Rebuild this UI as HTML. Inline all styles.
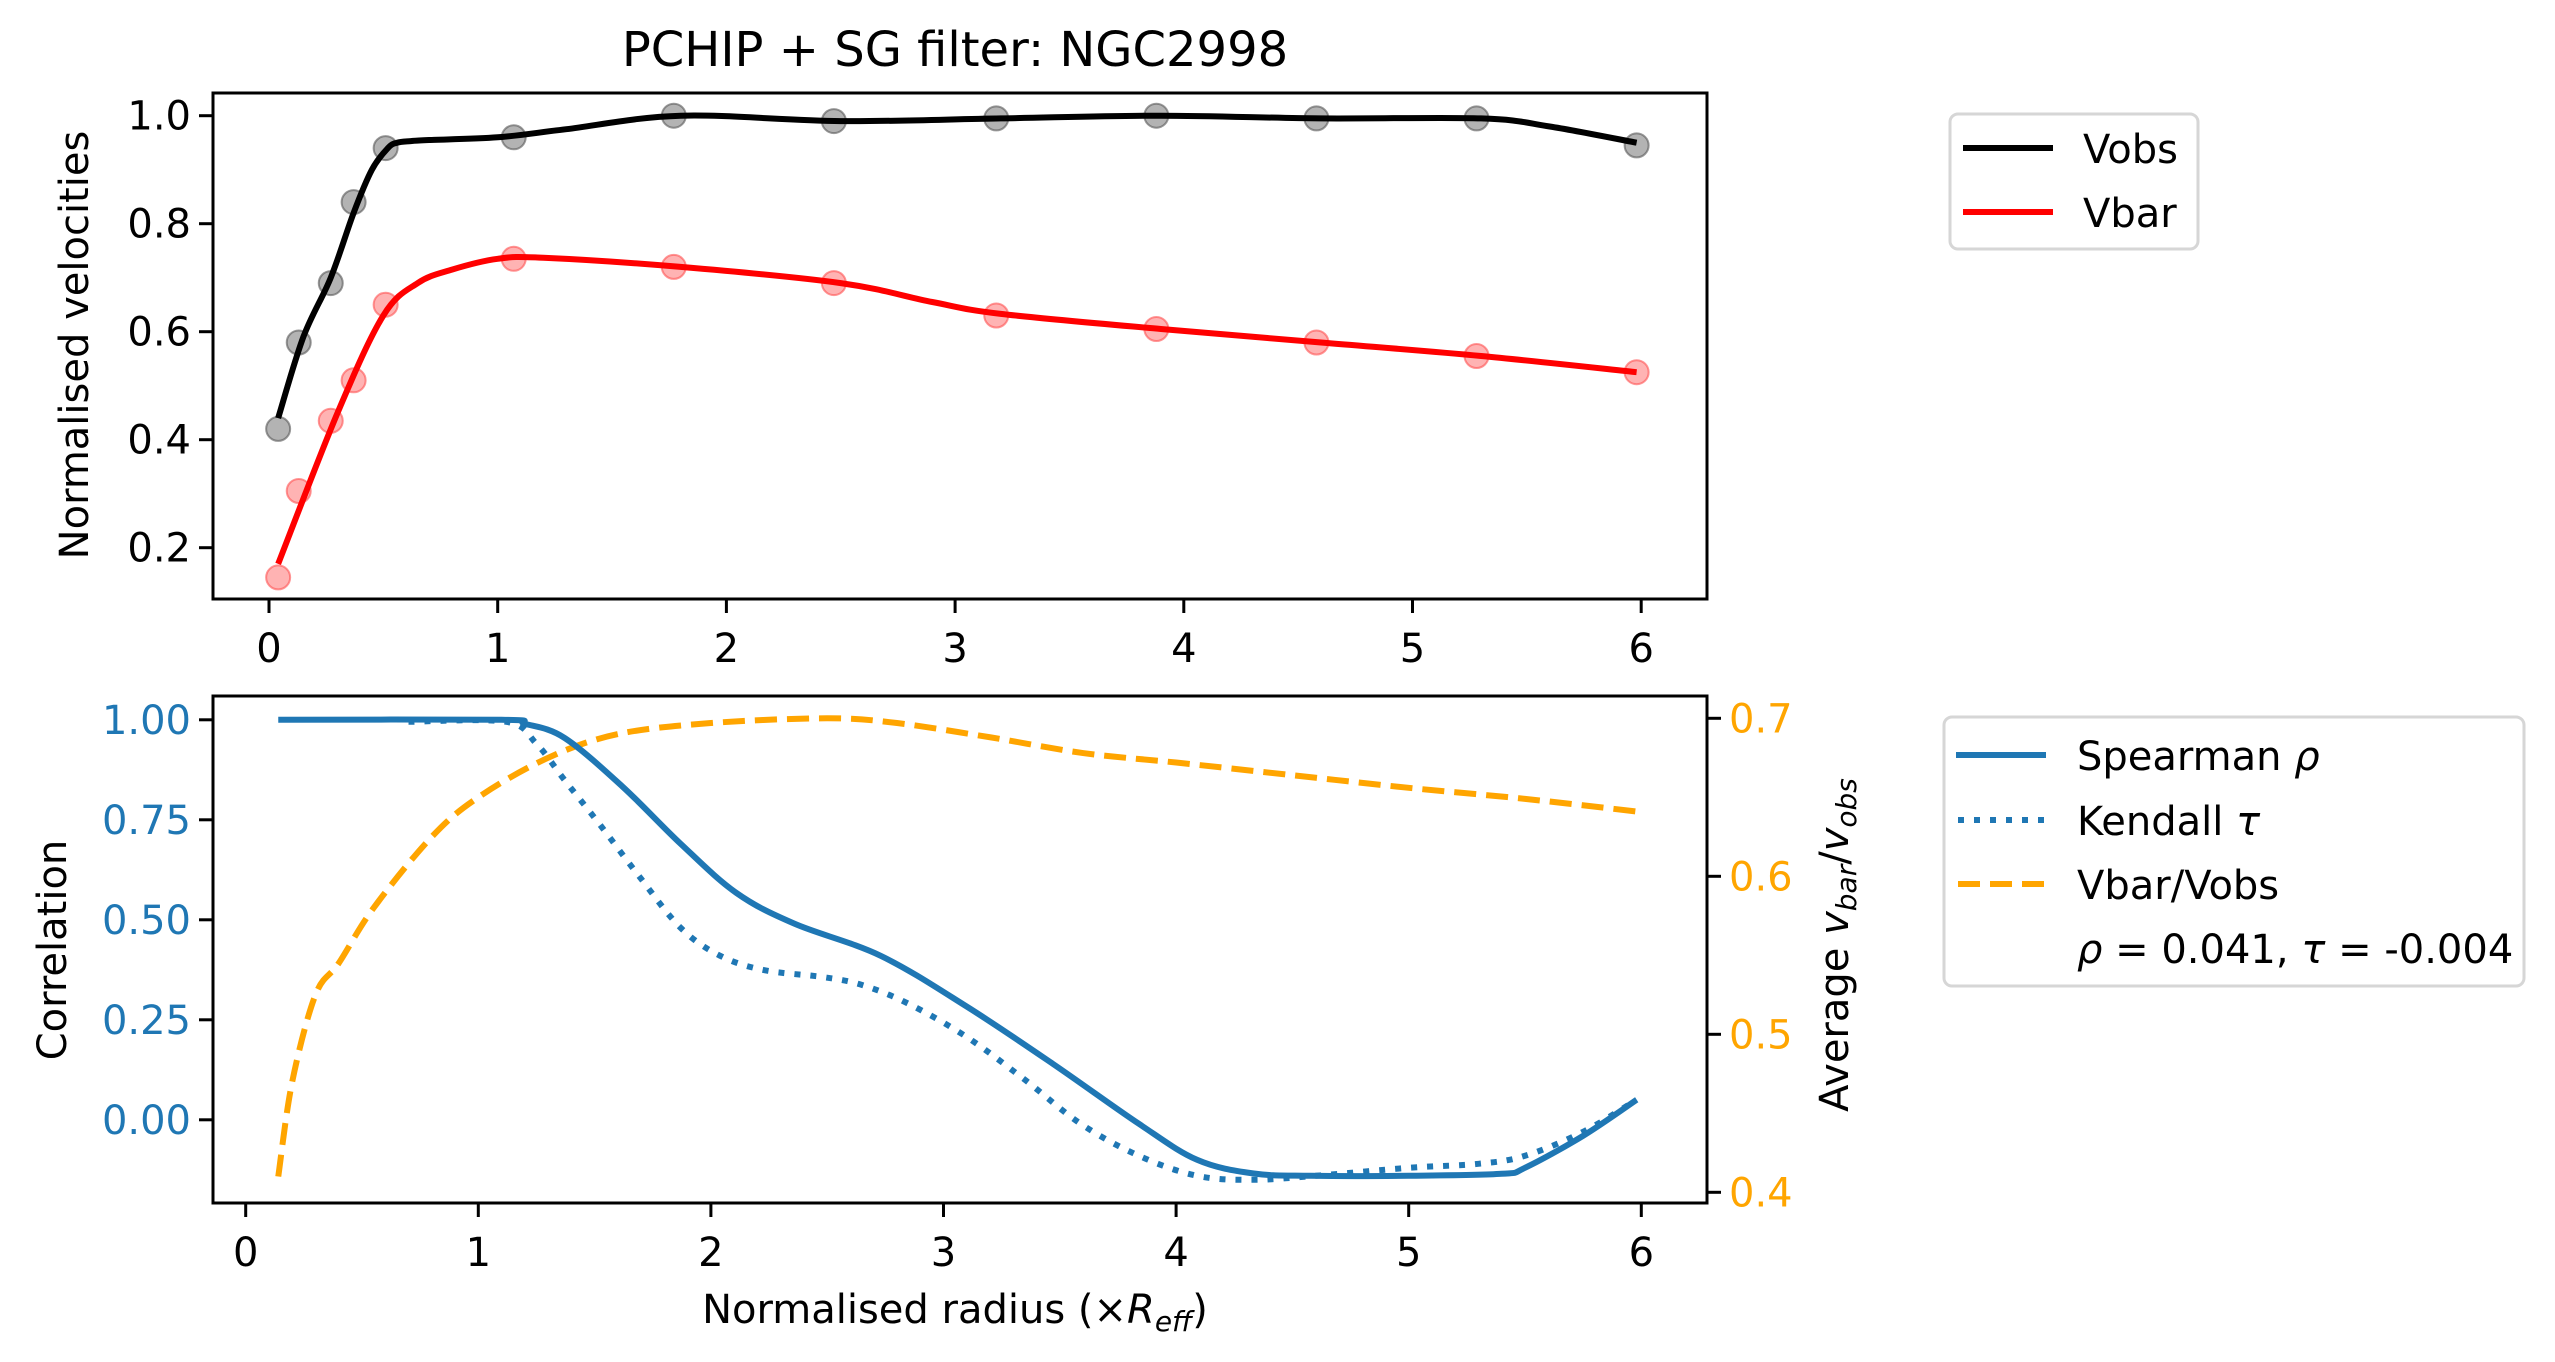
<!DOCTYPE html>
<html><head><meta charset="utf-8"><style>
body{margin:0;background:#fff}
svg{display:block;font-family:"DejaVu Sans","Liberation Sans",sans-serif}
</style></head><body>
<svg id="fig" width="2555" height="1362" viewBox="0 0 2555 1362" xmlns="http://www.w3.org/2000/svg">
<rect width="2555" height="1362" fill="#fff"/>
<text x="955" y="66" font-size="48" text-anchor="middle">PCHIP + SG filter: NGC2998</text>
<g id="topPanel"></g>
<g id="botPanel"></g>
<text transform="translate(88,345) rotate(-90)" font-size="40" text-anchor="middle">Normalised velocities</text>
<text transform="translate(66,950) rotate(-90)" font-size="40" text-anchor="middle">Correlation</text>
<text transform="translate(1848,945) rotate(-90)" font-size="40" text-anchor="middle">Average <tspan font-style="italic">v</tspan><tspan font-size="28" font-style="italic" dy="8">bar</tspan><tspan dy="-8">/</tspan><tspan font-style="italic">v</tspan><tspan font-size="28" font-style="italic" dy="8">obs</tspan></text>
<text x="955" y="1323" font-size="40" text-anchor="middle">Normalised radius (×<tspan font-style="italic">R</tspan><tspan font-size="28" font-style="italic" dy="8">eff</tspan><tspan dy="-8">)</tspan></text>
<g>
<rect x="1950" y="114" width="248" height="135" rx="8" fill="#fff" stroke="#d6d6d6" stroke-width="3"/>
<line x1="1963" y1="148" x2="2053" y2="148" stroke="#000" stroke-width="6"/>
<text x="2083" y="163" font-size="40">Vobs</text>
<line x1="1963" y1="212" x2="2053" y2="212" stroke="#ff0000" stroke-width="6"/>
<text x="2083" y="227" font-size="40">Vbar</text>
</g>
<g>
<rect x="1944" y="717" width="580" height="269" rx="8" fill="#fff" stroke="#d6d6d6" stroke-width="3"/>
<line x1="1956" y1="755" x2="2046" y2="755" stroke="#1f77b4" stroke-width="6"/>
<text x="2077" y="770" font-size="40">Spearman <tspan font-style="italic">ρ</tspan></text>
<line x1="1958" y1="820" x2="2046" y2="820" stroke="#1f77b4" stroke-width="6" stroke-dasharray="6 10"/>
<text x="2077" y="835" font-size="40">Kendall <tspan font-style="italic">τ</tspan></text>
<line x1="1958" y1="884" x2="2046" y2="884" stroke="#ffa500" stroke-width="6" stroke-dasharray="22 10"/>
<text x="2077" y="899" font-size="40">Vbar/Vobs</text>
<text x="2077" y="963" font-size="40"><tspan font-style="italic">ρ</tspan> = 0.041, <tspan font-style="italic">τ</tspan> = -0.004</text>
</g>
</svg>
<script>
const ptX=[0.04,0.13,0.27,0.37,0.51,1.07,1.77,2.47,3.18,3.88,4.58,5.28,5.98];
const ptVobs=[0.42,0.58,0.69,0.84,0.94,0.96,1.0,0.99,0.995,1.0,0.995,0.995,0.945];
const ptVbar=[0.145,0.305,0.435,0.51,0.65,0.735,0.72,0.69,0.63,0.605,0.58,0.555,0.525];
const obsX=[0.04,0.15,0.27,0.37,0.45,0.52,0.56,0.62,0.7,1.0,1.3,1.8,2.5,3.2,3.9,4.6,5.3,5.6,5.98];
const obsY=[0.44,0.59,0.70,0.82,0.90,0.94,0.95,0.953,0.955,0.96,0.975,1.0,0.99,0.995,1.0,0.995,0.995,0.98,0.95];
const barX=[0.04,0.3,0.5,0.65,0.8,1.0,1.2,1.8,2.5,2.9,3.2,3.9,4.6,5.3,5.98];
const barY=[0.17,0.45,0.63,0.69,0.715,0.735,0.737,0.72,0.69,0.655,0.633,0.605,0.58,0.555,0.525];
const spX=[0.14,1.1,1.2,1.37,1.62,1.87,2.11,2.36,2.73,3.1,3.47,3.84,4.09,4.33,4.58,5.0,5.4,5.5,5.75,5.98];
const spY=[1.0,1.0,0.99,0.955,0.833,0.69,0.567,0.49,0.41,0.283,0.14,-0.01,-0.1,-0.134,-0.14,-0.14,-0.135,-0.12,-0.04,0.05];
const kdX=[0.7,1.12,1.25,1.37,1.52,1.69,1.87,2.04,2.23,2.48,2.65,2.85,3.1,3.35,3.59,3.84,4.09,4.33,4.6,5.0,5.3,5.5,5.75,5.98];
const kdY=[0.995,0.995,0.94,0.85,0.74,0.61,0.48,0.41,0.374,0.357,0.337,0.29,0.207,0.1,-0.01,-0.09,-0.14,-0.15,-0.14,-0.12,-0.11,-0.09,-0.03,0.05];
const rtX=[0.14,0.2,0.3,0.4,0.55,0.8,1.0,1.3,1.6,2.0,2.5,2.8,3.2,3.6,4.0,4.5,5.0,5.5,5.98];
const rtY=[0.41,0.47,0.525,0.545,0.58,0.625,0.65,0.675,0.69,0.697,0.7,0.697,0.688,0.678,0.672,0.664,0.656,0.649,0.641];
const xTicks=[0,1,2,3,4,5,6];
const topYTicks=[0.2,0.4,0.6,0.8,1.0];
const botYTicks=[0.0,0.25,0.5,0.75,1.0];
const rtYTicks=[0.4,0.5,0.6,0.7];

const NS="http://www.w3.org/2000/svg";
function mk(parent,tag,attrs){const e=document.createElementNS(NS,tag);for(const k in attrs)e.setAttribute(k,attrs[k]);parent.appendChild(e);return e;}
const xT=v=>269+v*228.7, yT=v=>115.7+(1.0-v)*540;
const xB=v=>245.7+v*232.6, yB=v=>1119.8-v*400, yR=v=>718.3+(0.7-v)*1580;
function path(xs,ys,fx,fy){const p=xs.map((x,i)=>[fx(x),fy(ys[i])]);let d="M"+p[0][0]+","+p[0][1];
for(let i=0;i<p.length-1;i++){const a=p[Math.max(0,i-1)],b=p[i],c=p[i+1],e=p[Math.min(p.length-1,i+2)];
d+=" C"+(b[0]+(c[0]-a[0])/6)+","+(b[1]+(c[1]-a[1])/6)+" "+(c[0]-(e[0]-b[0])/6)+","+(c[1]-(e[1]-b[1])/6)+" "+c[0]+","+c[1];}return d;}
const topG=document.getElementById('topPanel'), botG=document.getElementById('botPanel');
ptX.forEach((x,i)=>{let c=mk(topG,'circle',{cx:xT(x),cy:yT(ptVobs[i]),r:12,fill:'#808080','fill-opacity':0.6,stroke:'#555','stroke-opacity':0.6,'stroke-width':2});


c=mk(topG,'circle',{cx:xT(x),cy:yT(ptVbar[i]),r:12,fill:'#ff8080','fill-opacity':0.6,stroke:'#ff5050','stroke-opacity':0.6,'stroke-width':2});

});
let l=mk(topG,'path',{d:path(obsX,obsY,xT,yT),fill:'none',stroke:'#000','stroke-width':6});


l=mk(topG,'path',{d:path(barX,barY,xT,yT),fill:'none',stroke:'#ff0000','stroke-width':6});


mk(topG,'rect',{x:213,y:93,width:1494,height:506,fill:'none',stroke:'#000','stroke-width':3});
xTicks.forEach(v=>{mk(topG,'line',{x1:xT(v),x2:xT(v),y1:599,y2:613,stroke:'#000','stroke-width':3});
const t=mk(topG,'text',{x:xT(v),y:662,'font-size':40,'text-anchor':'middle'});t.textContent=v;

});
topYTicks.forEach(v=>{mk(topG,'line',{x1:199,x2:213,y1:yT(v),y2:yT(v),stroke:'#000','stroke-width':3});
const t=mk(topG,'text',{x:191,y:yT(v)+14,'font-size':40,'text-anchor':'end'});t.textContent=v.toFixed(1);

});
l=mk(botG,'path',{d:path(rtX,rtY,xB,yR),fill:'none',stroke:'#ffa500','stroke-width':6,'stroke-dasharray':'22 10'});


l=mk(botG,'path',{d:path(kdX,kdY,xB,yB),fill:'none',stroke:'#1f77b4','stroke-width':6,'stroke-dasharray':'6 10'});


l=mk(botG,'path',{d:path(spX,spY,xB,yB),fill:'none',stroke:'#1f77b4','stroke-width':6});


mk(botG,'rect',{x:213,y:696,width:1494,height:507,fill:'none',stroke:'#000','stroke-width':3});
xTicks.forEach(v=>{mk(botG,'line',{x1:xB(v),x2:xB(v),y1:1203,y2:1217,stroke:'#000','stroke-width':3});
const t=mk(botG,'text',{x:xB(v),y:1266,'font-size':40,'text-anchor':'middle'});t.textContent=v;

});
botYTicks.forEach(v=>{mk(botG,'line',{x1:199,x2:213,y1:yB(v),y2:yB(v),stroke:'#000','stroke-width':3});
const t=mk(botG,'text',{x:191,y:yB(v)+14,'font-size':40,'text-anchor':'end',fill:'#1f77b4'});t.textContent=v.toFixed(2);

});
rtYTicks.forEach(v=>{mk(botG,'line',{x1:1707,x2:1721,y1:yR(v),y2:yR(v),stroke:'#000','stroke-width':3});
const t=mk(botG,'text',{x:1729,y:yR(v)+14,'font-size':40,fill:'#ffa500'});t.textContent=v.toFixed(1);

});
</script>
</body></html>
